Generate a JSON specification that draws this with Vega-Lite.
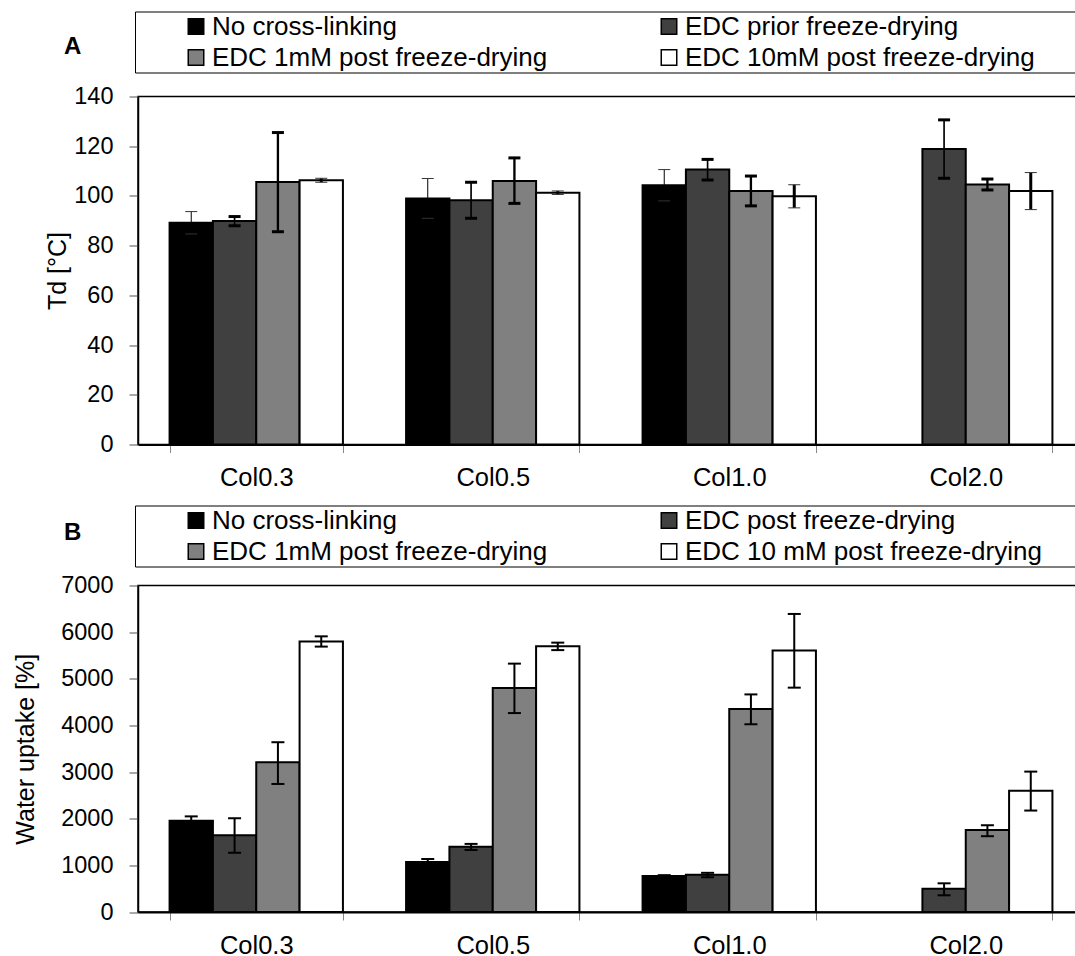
{
  "$schema": "https://vega.github.io/schema/vega-lite/v6.json",
  "background": "white",
  "padding": {"left": 12, "top": 9.5, "right": 0, "bottom": 0},
  "spacing": 11,
  "config": {
    "font": "Liberation Sans",
    "view": {"stroke": "black", "strokeWidth": 1.5},
    "axis": {"grid": false, "labelColor": "black", "titleColor": "black", "titleFontWeight": "normal"},
    "title": {"font": "Liberation Sans", "fontWeight": "bold", "fontSize": 24, "color": "black"}
  },
  "datasets": {
    "A": [
      {"group": "Col0.3", "series": "No cross-linking", "value": 89.2, "lo": 84.7, "hi": 93.7},
      {"group": "Col0.3", "series": "EDC prior freeze-drying", "value": 89.9, "lo": 88.0, "hi": 91.7},
      {"group": "Col0.3", "series": "EDC 1mM post freeze-drying", "value": 105.6, "lo": 85.6, "hi": 125.5},
      {"group": "Col0.3", "series": "EDC 10mM post freeze-drying", "value": 106.3, "lo": 105.5, "hi": 107.1},
      {"group": "Col0.5", "series": "No cross-linking", "value": 99.0, "lo": 91.0, "hi": 107.0},
      {"group": "Col0.5", "series": "EDC prior freeze-drying", "value": 98.3, "lo": 91.0, "hi": 105.5},
      {"group": "Col0.5", "series": "EDC 1mM post freeze-drying", "value": 106.0, "lo": 97.0, "hi": 115.3},
      {"group": "Col0.5", "series": "EDC 10mM post freeze-drying", "value": 101.3, "lo": 100.6, "hi": 102.0},
      {"group": "Col1.0", "series": "No cross-linking", "value": 104.3, "lo": 98.0, "hi": 110.6},
      {"group": "Col1.0", "series": "EDC prior freeze-drying", "value": 110.6, "lo": 106.4, "hi": 114.7},
      {"group": "Col1.0", "series": "EDC 1mM post freeze-drying", "value": 102.0, "lo": 96.0, "hi": 108.0},
      {"group": "Col1.0", "series": "EDC 10mM post freeze-drying", "value": 99.9, "lo": 95.2, "hi": 104.5},
      {"group": "Col2.0", "series": "EDC prior freeze-drying", "value": 118.9, "lo": 107.1, "hi": 130.6},
      {"group": "Col2.0", "series": "EDC 1mM post freeze-drying", "value": 104.6, "lo": 102.4, "hi": 106.8},
      {"group": "Col2.0", "series": "EDC 10mM post freeze-drying", "value": 102.0, "lo": 94.5, "hi": 109.4}
    ],
    "B": [
      {"group": "Col0.3", "series": "No cross-linking", "value": 1958, "lo": 1868, "hi": 2050},
      {"group": "Col0.3", "series": "EDC post freeze-drying", "value": 1643, "lo": 1270, "hi": 2010},
      {"group": "Col0.3", "series": "EDC 1mM post freeze-drying", "value": 3208, "lo": 2745, "hi": 3640},
      {"group": "Col0.3", "series": "EDC 10 mM post freeze-drying", "value": 5800, "lo": 5690, "hi": 5910},
      {"group": "Col0.5", "series": "No cross-linking", "value": 1072, "lo": 1008, "hi": 1136},
      {"group": "Col0.5", "series": "EDC post freeze-drying", "value": 1400, "lo": 1330, "hi": 1460},
      {"group": "Col0.5", "series": "EDC 1mM post freeze-drying", "value": 4800, "lo": 4265, "hi": 5325},
      {"group": "Col0.5", "series": "EDC 10 mM post freeze-drying", "value": 5700, "lo": 5615, "hi": 5775},
      {"group": "Col1.0", "series": "No cross-linking", "value": 770, "lo": 750, "hi": 790},
      {"group": "Col1.0", "series": "EDC post freeze-drying", "value": 800, "lo": 745, "hi": 840},
      {"group": "Col1.0", "series": "EDC 1mM post freeze-drying", "value": 4350, "lo": 4025, "hi": 4665},
      {"group": "Col1.0", "series": "EDC 10 mM post freeze-drying", "value": 5608, "lo": 4810, "hi": 6390},
      {"group": "Col2.0", "series": "EDC post freeze-drying", "value": 497, "lo": 358, "hi": 615},
      {"group": "Col2.0", "series": "EDC 1mM post freeze-drying", "value": 1757, "lo": 1625, "hi": 1860},
      {"group": "Col2.0", "series": "EDC 10 mM post freeze-drying", "value": 2600, "lo": 2175, "hi": 3010}
    ]
  },
  "resolve": {
    "scale": {"color": "independent", "xOffset": "independent", "y": "independent", "strokeWidth": "independent"},
    "legend": {"color": "independent", "strokeWidth": "independent"},
    "axis": {"y": "independent"}
  },
  "vconcat": [
    {
      "width": 946,
      "height": 348,
      "title": {"text": "A", "anchor": "start", "frame": "group", "dx": -74, "dy": 67, "offset": 0, "baseline": "alphabetic"},
      "data": {"name": "A"},
      "encoding": {
        "x": {
          "field": "group", "type": "nominal", "sort": null,
          "scale": {"paddingInner": 0.267, "paddingOuter": 0.1335},
          "axis": {"title": null, "labelAngle": 0, "tickBand": "extent", "tickSize": 8, "tickColor": "#888888", "tickWidth": 1, "labelFontSize": 25.5, "labelPadding": 13, "domainColor": "black", "domainWidth": 2}
        },
        "xOffset": {
          "field": "series", "type": "nominal",
          "scale": {"domain": ["No cross-linking", "EDC prior freeze-drying", "EDC 1mM post freeze-drying", "EDC 10mM post freeze-drying"], "paddingInner": 0, "paddingOuter": 0}
        }
      },
      "layer": [
        {
          "mark": {"type": "bar", "stroke": "black", "strokeWidth": 2},
          "encoding": {
            "y": {
              "field": "value", "type": "quantitative", "title": "Td [°C]",
              "scale": {"domain": [0, 140], "nice": false},
              "axis": {"values": [0, 20, 40, 60, 80, 100, 120, 140], "tickSize": 9, "tickColor": "#555555", "labelFontSize": 23.5, "labelPadding": 16, "titleFontSize": 25, "titlePadding": 3, "domainColor": "black", "domainWidth": 1.5}
            },
            "color": {
              "field": "series", "type": "nominal",
              "scale": {"domain": ["No cross-linking", "EDC 1mM post freeze-drying", "EDC prior freeze-drying", "EDC 10mM post freeze-drying"], "range": ["#000000", "#808080", "#404040", "#ffffff"]},
              "legend": {
                "orient": "none", "legendX": -3, "legendY": -85, "columns": 2,
                "title": " ", "titleOrient": "left", "titleFontSize": 1, "titlePadding": 46,
                "strokeColor": "black", "padding": 2,
                "symbolType": "square", "symbolSize": 240, "symbolStrokeColor": "black", "symbolStrokeWidth": 1.5,
                "labelFontSize": 26, "labelFont": "Liberation Sans", "labelColor": "black", "labelLimit": 1000, "labelOffset": 3,
                "columnPadding": 108, "rowPadding": 5,
                "labelExpr": "datum.label == 'EDC prior freeze-drying' || datum.label == 'EDC 10mM post freeze-drying' ? datum.label + '\u2800\u2800\u2800\u2800' : datum.label"
              }
            }
          }
        },
        {
          "mark": {"type": "rule", "color": "black"},
          "encoding": {
            "y": {"field": "lo", "type": "quantitative", "title": "Td [°C]"},
            "y2": {"field": "hi"},
            "strokeWidth": {"field": "series", "type": "nominal", "scale": {"domain": ["No cross-linking", "EDC prior freeze-drying", "EDC 1mM post freeze-drying", "EDC 10mM post freeze-drying"], "range": [1, 3, 3, 1]}, "legend": null}
          }
        },
        {
          "transform": [{"filter": {"field": "series", "oneOf": ["EDC prior freeze-drying", "EDC 1mM post freeze-drying"]}}, {"fold": ["lo", "hi"], "as": ["end", "yv"]}],
          "mark": {"type": "tick", "color": "black", "thickness": 3, "size": 12, "opacity": 1},
          "encoding": {"y": {"field": "yv", "type": "quantitative", "title": "Td [°C]"}}
        },
        {
          "transform": [{"filter": {"field": "series", "oneOf": ["No cross-linking", "EDC 10mM post freeze-drying"]}}, {"fold": ["lo", "hi"], "as": ["end", "yv"]}],
          "mark": {"type": "tick", "color": "#333333", "thickness": 1, "size": 12, "opacity": 1},
          "encoding": {"y": {"field": "yv", "type": "quantitative", "title": "Td [°C]"}}
        }
      ]
    },
    {
      "width": 946,
      "height": 326.5,
      "title": {"text": "B", "anchor": "start", "frame": "group", "dx": -74, "dy": 59, "offset": 0, "baseline": "alphabetic"},
      "data": {"name": "B"},
      "encoding": {
        "x": {
          "field": "group", "type": "nominal", "sort": null,
          "scale": {"paddingInner": 0.267, "paddingOuter": 0.1335},
          "axis": {"title": null, "labelAngle": 0, "tickBand": "extent", "tickSize": 8, "tickColor": "#888888", "tickWidth": 1, "labelFontSize": 25.5, "labelPadding": 13, "domainColor": "black", "domainWidth": 2}
        },
        "xOffset": {
          "field": "series", "type": "nominal",
          "scale": {"domain": ["No cross-linking", "EDC post freeze-drying", "EDC 1mM post freeze-drying", "EDC 10 mM post freeze-drying"], "paddingInner": 0, "paddingOuter": 0}
        }
      },
      "layer": [
        {
          "mark": {"type": "bar", "stroke": "black", "strokeWidth": 2},
          "encoding": {
            "y": {
              "field": "value", "type": "quantitative", "title": "Water uptake [%]",
              "scale": {"domain": [0, 7000], "nice": false},
              "axis": {"values": [0, 1000, 2000, 3000, 4000, 5000, 6000, 7000], "format": "d", "tickSize": 9, "tickColor": "#555555", "labelFontSize": 23.5, "labelPadding": 16, "titleFontSize": 25, "titlePadding": 22, "domainColor": "black", "domainWidth": 1.5}
            },
            "color": {
              "field": "series", "type": "nominal",
              "scale": {"domain": ["No cross-linking", "EDC 1mM post freeze-drying", "EDC post freeze-drying", "EDC 10 mM post freeze-drying"], "range": ["#000000", "#808080", "#404040", "#ffffff"]},
              "legend": {
                "orient": "none", "legendX": -3, "legendY": -80, "columns": 2,
                "title": " ", "titleOrient": "left", "titleFontSize": 1, "titlePadding": 46,
                "strokeColor": "black", "padding": 2,
                "symbolType": "square", "symbolSize": 240, "symbolStrokeColor": "black", "symbolStrokeWidth": 1.5,
                "labelFontSize": 26, "labelFont": "Liberation Sans", "labelColor": "black", "labelLimit": 1000, "labelOffset": 3,
                "columnPadding": 108, "rowPadding": 5,
                "labelExpr": "datum.label == 'EDC post freeze-drying' || datum.label == 'EDC 10 mM post freeze-drying' ? datum.label + '\u2800\u2800\u2800\u2800' : datum.label"
              }
            }
          }
        },
        {
          "mark": {"type": "rule", "color": "black", "strokeWidth": 2},
          "encoding": {
            "y": {"field": "lo", "type": "quantitative", "title": "Water uptake [%]"},
            "y2": {"field": "hi"}
          }
        },
        {
          "transform": [{"fold": ["lo", "hi"], "as": ["end", "yv"]}],
          "mark": {"type": "tick", "color": "black", "thickness": 2, "size": 13, "opacity": 1},
          "encoding": {"y": {"field": "yv", "type": "quantitative", "title": "Water uptake [%]"}}
        }
      ]
    }
  ]
}
